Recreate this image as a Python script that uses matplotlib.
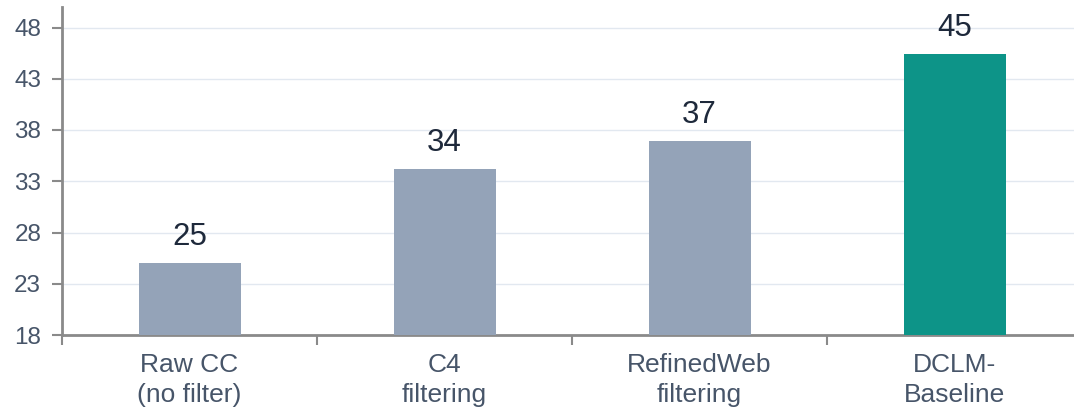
import matplotlib
matplotlib.use("Agg")
import matplotlib.pyplot as plt

categories = ["Raw CC\n(no filter)", "C4\nfiltering", "RefinedWeb\nfiltering", "DCLM-\nBaseline"]
scores = [25.0, 34.2, 36.9, 45.4]
bar_colors = ["#94a3b8", "#94a3b8", "#94a3b8", "#0d9488"]
y_ticks = [18, 23, 28, 33, 38, 43, 48]

plt.rcParams["font.family"] = ["Liberation Sans", "DejaVu Sans"]

fig = plt.figure(figsize=(10.74, 4.13), dpi=100)
ax = fig.add_axes([62 / 1074, 1 - 335 / 413, 1020 / 1074, 328 / 413])

x = list(range(len(categories)))
ax.bar(x, [s - 18 for s in scores], bottom=18, width=0.4, color=bar_colors, zorder=3)

for xi, s in zip(x, scores):
    ax.annotate(f"{s:.0f}", (xi, s), xytext=(0, 13), textcoords="offset points",
                ha="center", va="baseline", fontsize=22.5, color="#1e293b")

ax.set_xlim(-0.5, 3.5)
ax.set_ylim(18, 50)
ax.set_yticks(y_ticks)
ax.set_yticklabels([str(t) for t in y_ticks], fontsize=17.5, color="#475569")
ax.set_xticks(x)
ax.set_xticklabels(categories, fontsize=19, color="#475569", linespacing=1.3)
ax.tick_params(axis="x", length=0, pad=13)
ax.set_xticks([-0.5, 0.5, 1.5, 2.5, 3.5], minor=True)
ax.tick_params(axis="x", which="minor", length=7, width=1.5, color="#8a8a8a")
ax.tick_params(axis="y", length=7, width=1.5, color="#8a8a8a", pad=8)

ax.grid(axis="y", color="#e2e8f0", linewidth=1, zorder=0)
for side in ("top", "right"):
    ax.spines[side].set_visible(False)
for side in ("left", "bottom"):
    ax.spines[side].set_color("#8a8a8a")
    ax.spines[side].set_linewidth(2)

fig.savefig("out.png", dpi=100)
